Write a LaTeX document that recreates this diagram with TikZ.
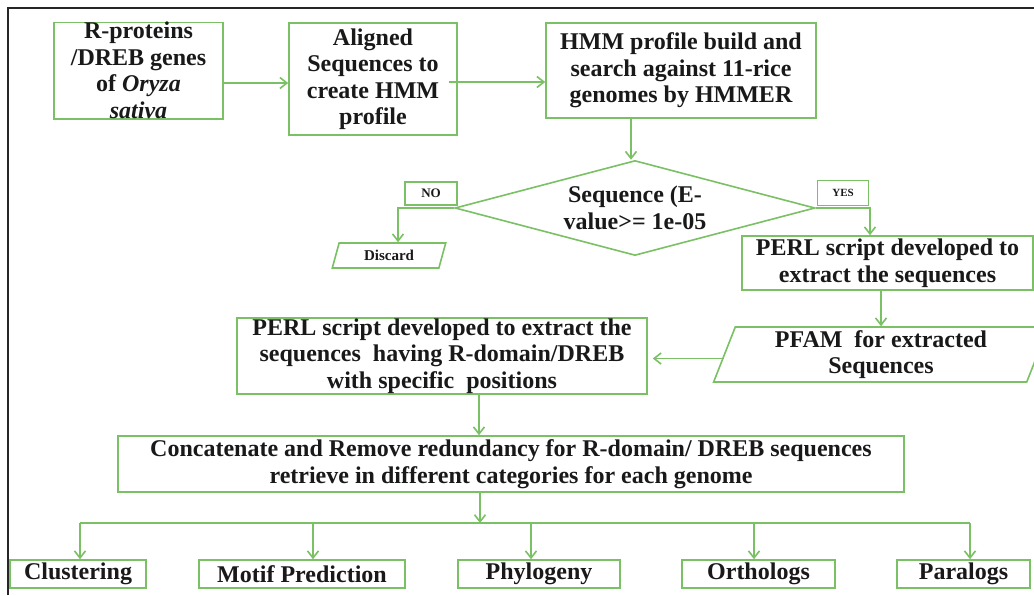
\documentclass[tikz,border=0pt]{standalone}
\usepackage{fontspec}
\setmainfont{Liberation Serif}
\usetikzlibrary{shapes.geometric,arrows.meta,calc}
\definecolor{gline}{RGB}{122,192,100}
\definecolor{tcol}{RGB}{25,25,25}
\begin{document}
\begin{tikzpicture}[x=1pt,y=-1pt,
  box/.style={draw=gline,line width=1.6pt,rectangle,inner sep=0pt,align=center,text=tcol,font=\bfseries\fontsize{24}{26.5}\selectfont},
  para/.style={box,trapezium,trapezium left angle=72,trapezium right angle=108,trapezium stretches=true},
  tag/.style={box,font=\bfseries\fontsize{11}{13}\selectfont},
  arr/.style={draw=gline,line width=1.6pt,-{Straight Barb[length=7pt,width=11pt]}},
  ln/.style={draw=gline,line width=1.6pt}]
\useasboundingbox (0,0) rectangle (1034,595);
\fill[white] (0,0) rectangle (1034,595);
\draw[line width=1.5pt,black!85] (8,595) -- (8,8) -- (1034,8);

\node[box,minimum width=169,minimum height=95] (b1) at (138.5,70.5) {R-proteins\\/DREB genes\\of \textit{Oryza}\\\textit{sativa}};
\node[box,minimum width=168,minimum height=112] (b2) at (373,79) {Aligned\\Sequences to\\create HMM\\profile};
\node[box,minimum width=270,minimum height=95] (b3) at (681,70.5) {HMM profile build and\\search against 11-rice\\genomes by HMMER};
\node[box,diamond,aspect=3.79,minimum width=360,minimum height=95] (dia) at (635,208) {Sequence (E-\\value>= 1e-05};
\node[tag,minimum width=52,minimum height=23,font=\bfseries\fontsize{13}{15}\selectfont] (no) at (431,193.5) {NO};
\node[tag,minimum width=51,minimum height=25] (yes) at (843,193) {YES};
\node[para,minimum width=114,minimum height=25,font=\bfseries\fontsize{15}{17}\selectfont] (disc) at (389,255.5) {Discard};
\node[box,minimum width=291,minimum height=54] (p1) at (887.5,263) {PERL script developed to\\extract the sequences};
\node[para,minimum width=336,minimum height=55] (pfam) at (881,354.5) {PFAM~ for extracted\\Sequences};
\node[box,minimum width=410,minimum height=76] (p2) at (442,356) {PERL script developed to extract the\\sequences~ having R-domain/DREB\\with specific~ positions};
\node[box,minimum width=786,minimum height=56] (cc) at (511,464) {Concatenate and Remove redundancy for R-domain/ DREB sequences\\retrieve in different categories for each genome};

\node[box,minimum width=136,minimum height=28] (o1) at (78,574) {Clustering};
\node[box,minimum width=206,minimum height=28] (o2) at (302,574) {Motif Prediction};
\node[box,minimum width=162,minimum height=28] (o3) at (539,574) {Phylogeny};
\node[box,minimum width=153,minimum height=28] (o4) at (758.5,574) {Orthologs};
\node[box,minimum width=133,minimum height=28] (o5) at (963.5,574) {Paralogs};

\draw[arr] ([yshift=-12.5]b1.east) -- ([yshift=-12.5]b1.east -| b2.west);
\draw[arr] ([xshift=-9,yshift=-3]b2.east) -- ([yshift=-3]b2.east -| b3.west);
\draw[arr] ([xshift=-50]b3.south) -- ([xshift=-50]b3.south |- dia.north);
\draw[arr] (dia.west) -| ([xshift=9]disc.north);
\draw[arr] (dia.east) -| ([xshift=-17.5]p1.north);
\draw[arr] (pfam.north |- p1.south) -- (pfam.north);
\draw[arr,shorten >=5pt] ([yshift=-4]pfam.west) -- ([yshift=-4]pfam.west -| p2.east);
\draw[arr] ([xshift=37]p2.south) -- ([xshift=37]p2.south |- cc.north);

\coordinate (hub) at (480,523);
\draw[arr] (cc.south -| hub) -- (hub);
\coordinate (d1) at (80,523);
\coordinate (d2) at (313,523);
\coordinate (d3) at (531,523);
\coordinate (d4) at (754,523);
\coordinate (d5) at (970,523);
\draw[ln] (d1) -- (d5);
\draw[arr] (d1) -- (d1 |- o1.north);
\draw[arr] (d2) -- (d2 |- o2.north);
\draw[arr] (d3) -- (d3 |- o3.north);
\draw[arr] (d4) -- (d4 |- o4.north);
\draw[arr] (d5) -- (d5 |- o5.north);
\end{tikzpicture}
\end{document}
